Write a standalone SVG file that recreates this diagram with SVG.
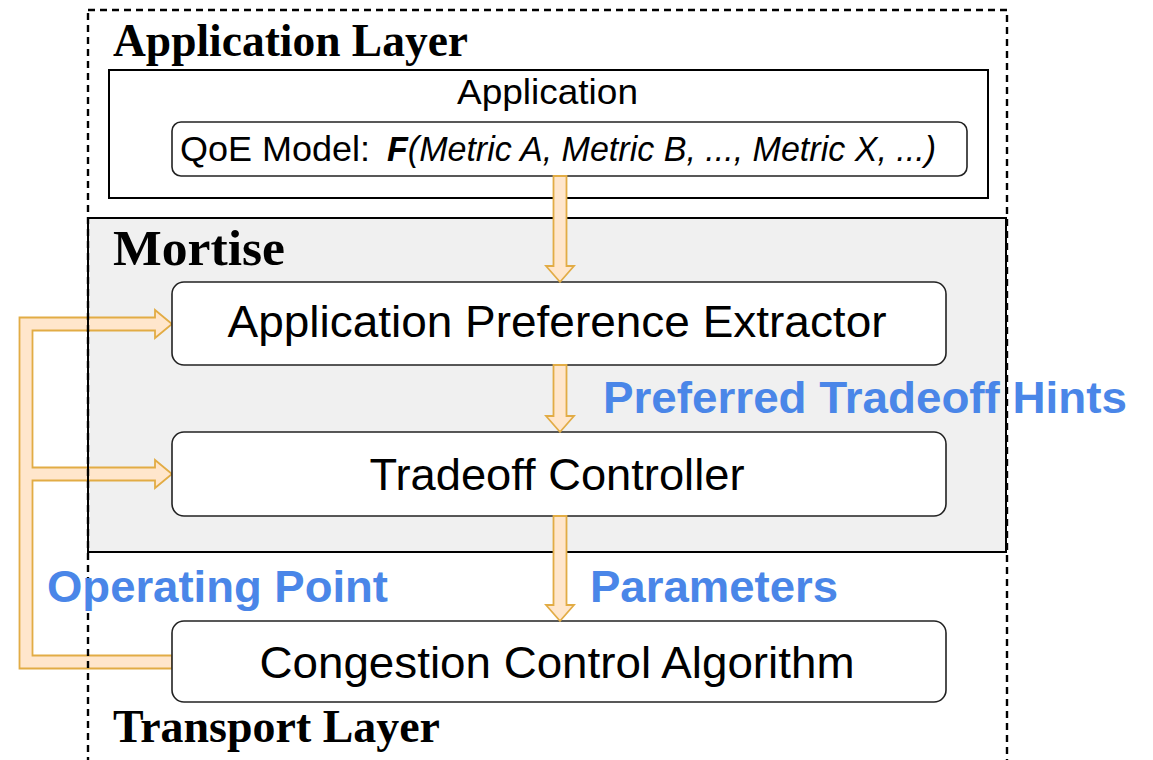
<svg xmlns="http://www.w3.org/2000/svg" width="1153" height="760" viewBox="0 0 1153 760">
<style>
.layer{font-family:"Liberation Serif","Times New Roman",serif;font-weight:bold;fill:#000}
.node rect{fill:#fff;stroke:#222;stroke-width:1.6}
.lbl{font-family:"Liberation Sans",Arial,sans-serif;fill:#000}
.blue{font-family:"Liberation Sans",Arial,sans-serif;font-weight:bold;fill:#4a86e8}
.arrow{fill:#ffe6cc;stroke:#e2ac45;stroke-width:1.8;stroke-linejoin:miter}
</style>
<rect width="1153" height="760" fill="#fff"/>
<!-- Mortise fill -->
<rect x="88" y="218" width="918" height="334" fill="#f0f0f0"/>
<!-- connectors -->
<g id="connectors">
<polygon class="arrow" points="172,655.5 32.5,655.5 32.5,480.5 155,480.5 155,488 172,474 155,460 155,467.5 32.5,467.5 32.5,330.5 155,330.5 155,338 172,324 155,310 155,317.5 19.5,317.5 19.5,668.5 172,668.5"/>
</g>
<!-- outer dashed -->
<rect id="outer" x="88" y="10" width="919" height="760" fill="none" stroke="#000" stroke-width="2.4" stroke-dasharray="7,5"/>
<text class="layer" x="113" y="56" font-size="46" textLength="355" lengthAdjust="spacingAndGlyphs">Application Layer</text>
<!-- Application box -->
<g id="application">
<rect x="109" y="70" width="879" height="128" fill="#fff" stroke="#000" stroke-width="2"/>
<text class="lbl" x="457" y="104" font-size="35" textLength="181" lengthAdjust="spacingAndGlyphs">Application</text>
</g>
<g id="qoe" class="node">
<rect x="172" y="122" width="795" height="54" rx="9"/>
<text class="lbl" x="180" y="161" font-size="35" textLength="190" lengthAdjust="spacingAndGlyphs">QoE Model:</text>
<text class="lbl" x="387" y="161" font-size="35" font-style="italic" textLength="549" lengthAdjust="spacingAndGlyphs"><tspan font-weight="bold">F</tspan>(Metric A, Metric B, ..., Metric X, ...)</text>
</g>
<!-- Mortise border -->
<g id="mortise">
<rect x="88" y="218" width="918" height="334" fill="none" stroke="#000" stroke-width="2"/>
<text class="layer" x="113" y="265" font-size="50" textLength="172" lengthAdjust="spacingAndGlyphs">Mortise</text>
</g>
<g id="extractor" class="node">
<rect x="172" y="282" width="774" height="83" rx="12"/>
<text class="lbl" x="557" y="337" font-size="45" text-anchor="middle" textLength="659" lengthAdjust="spacingAndGlyphs">Application Preference Extractor</text>
</g>
<g id="controller" class="node">
<rect x="172" y="432" width="774" height="84" rx="12"/>
<text class="lbl" x="557" y="490" font-size="45" text-anchor="middle" textLength="375" lengthAdjust="spacingAndGlyphs">Tradeoff Controller</text>
</g>
<g id="cca" class="node">
<rect x="172" y="621" width="774" height="81" rx="12"/>
<text class="lbl" x="557" y="678" font-size="45" text-anchor="middle" textLength="595" lengthAdjust="spacingAndGlyphs">Congestion Control Algorithm</text>
</g>
<g id="vconnectors">
<polygon class="arrow" points="553.5,176 566.5,176 566.5,266 574,266 560,282 546,266 553.5,266"/>
<polygon class="arrow" points="553.5,365 566.5,365 566.5,416 574,416 560,432 546,416 553.5,416"/>
<polygon class="arrow" points="553.5,516 566.5,516 566.5,605 574,605 560,621 546,605 553.5,605"/>
</g>
<text class="blue" x="603" y="413" font-size="45" textLength="524" lengthAdjust="spacingAndGlyphs">Preferred Tradeoff Hints</text>
<text class="blue" x="47" y="602" font-size="45" textLength="341" lengthAdjust="spacingAndGlyphs">Operating Point</text>
<text class="blue" x="590" y="602" font-size="45" textLength="248" lengthAdjust="spacingAndGlyphs">Parameters</text>
<text class="layer" x="113" y="742" font-size="46" textLength="327" lengthAdjust="spacingAndGlyphs">Transport Layer</text>
</svg>
